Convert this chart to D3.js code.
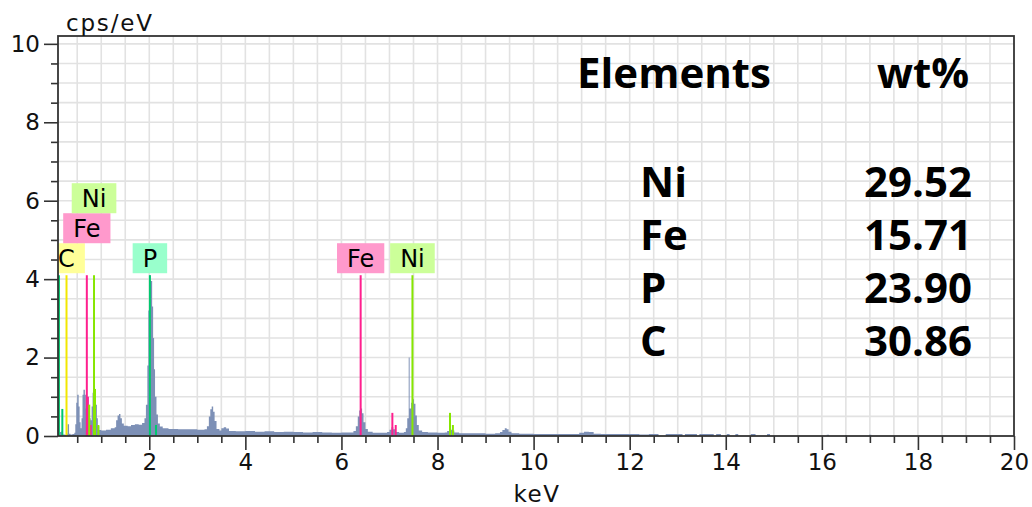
<!DOCTYPE html>
<html>
<head>
<meta charset="utf-8">
<script src="https://cdn.jsdelivr.net/npm/d3@7/dist/d3.min.js"></script>
<style>
  html, body { margin: 0; padding: 0; background: #fff; }
  svg { display: block; }
</style>
</head>
<body>
<svg id="chart" width="1032" height="507"></svg>
<script>
// EDS spectrum: energy (keV) of each channel group and its intensity (cps/eV)
const spectrumKeV = [
  0.10, 0.14, 0.17, 0.20, 0.24, 0.28, 0.30, 0.33, 0.36, 0.40, 0.44, 0.46, 0.48, 0.50, 0.53, 0.55,
  0.57, 0.59, 0.61, 0.63, 0.66, 0.68, 0.70, 0.72, 0.74, 0.76, 0.78, 0.80, 0.82, 0.84, 0.87, 0.89,
  0.91, 0.93, 0.96, 1.00, 1.10, 1.20, 1.28, 1.31, 1.34, 1.37, 1.40, 1.43, 1.47, 1.55, 1.62, 1.70,
  1.78, 1.85, 1.90, 1.93, 1.96, 1.98, 2.00, 2.03, 2.06, 2.08, 2.10, 2.12, 2.15, 2.18, 2.22, 2.28,
  2.40, 2.60, 2.80, 3.00, 3.15, 3.20, 3.24, 3.27, 3.30, 3.33, 3.36, 3.40, 3.46, 3.50, 3.55, 3.60,
  3.66, 3.80, 4.00, 4.20, 4.40, 4.60, 4.80, 5.00, 5.20, 5.40, 5.60, 5.80, 6.00, 6.15, 6.25, 6.30,
  6.34, 6.37, 6.40, 6.43, 6.46, 6.50, 6.55, 6.65, 6.80, 6.95, 7.00, 7.04, 7.08, 7.12, 7.20, 7.30,
  7.34, 7.37, 7.40, 7.42, 7.45, 7.48, 7.51, 7.54, 7.57, 7.61, 7.68, 7.80, 8.00, 8.15, 8.20, 8.25,
  8.30, 8.35, 8.45, 8.70, 9.00, 9.20, 9.30, 9.35, 9.40, 9.44, 9.48, 9.54, 9.70, 10.00, 10.50, 10.95,
  11.05, 11.15, 11.25, 11.40, 11.80, 12.20, 12.40, 12.60, 12.75, 12.95, 13.10, 13.15, 13.40, 13.45, 13.75, 13.80,
  13.90, 14.02, 14.08, 14.20, 14.26, 14.52, 14.62, 14.86, 14.92, 16.10, 16.15, 16.48, 16.52, 16.98, 17.03, 20.00
];
const spectrumCps = [
  0.03, 0.10, 0.12, 0.04, 0.03, 0.06, 0.30, 0.06, 0.04, 0.05, 0.08, 0.30, 0.85, 1.05, 0.75, 0.35,
  0.20, 0.45, 1.05, 1.18, 1.05, 0.70, 0.90, 1.00, 0.65, 0.45, 0.40, 0.75, 1.10, 1.22, 1.15, 0.80,
  0.45, 0.25, 0.15, 0.14, 0.16, 0.20, 0.22, 0.40, 0.52, 0.56, 0.45, 0.32, 0.26, 0.25, 0.28, 0.30,
  0.29, 0.33, 0.45, 0.80, 1.80, 3.20, 4.10, 3.95, 3.30, 2.50, 1.70, 1.00, 0.55, 0.32, 0.24, 0.20,
  0.18, 0.17, 0.17, 0.16, 0.17, 0.25, 0.50, 0.68, 0.75, 0.62, 0.38, 0.18, 0.14, 0.20, 0.22, 0.19,
  0.13, 0.12, 0.13, 0.11, 0.12, 0.10, 0.11, 0.10, 0.09, 0.10, 0.09, 0.08, 0.09, 0.09, 0.13, 0.25,
  0.50, 0.65, 0.70, 0.58, 0.35, 0.18, 0.11, 0.08, 0.08, 0.10, 0.16, 0.22, 0.17, 0.10, 0.08, 0.10,
  0.20, 0.45, 2.00, 0.70, 0.85, 0.94, 0.82, 0.52, 0.28, 0.14, 0.10, 0.09, 0.08, 0.09, 0.13, 0.16,
  0.14, 0.09, 0.07, 0.07, 0.06, 0.07, 0.10, 0.15, 0.20, 0.17, 0.11, 0.07, 0.06, 0.05, 0.05, 0.08,
  0.11, 0.10, 0.06, 0.05, 0.05, 0.04, 0.05, 0.00, 0.05, 0.05, 0.00, 0.05, 0.00, 0.05, 0.00, 0.05,
  0.00, 0.05, 0.00, 0.05, 0.00, 0.05, 0.00, 0.05, 0.00, 0.03, 0.00, 0.02, 0.00, 0.03, 0.00, 0.00
];

// Characteristic line markers: element, energy (keV), marker height (cps/eV)
const lineElement = ["P", "P", "C", "Fe", "Fe", "Fe", "Ni", "Ni", "Ni", "Ni", "P", "P", "Fe", "Fe", "Fe", "Ni", "Ni", "Ni"];
const lineKeV     = [0.12, 0.19, 0.277, 0.70, 0.72, 0.78, 0.75, 0.85, 0.87, 0.94, 2.013, 2.14, 6.40, 7.06, 7.13, 7.478, 8.26, 8.32];
const lineCps     = [4.1, 0.69, 4.1, 4.1, 1.0, 0.28, 0.8, 4.1, 1.2, 0.28, 4.1, 0.28, 4.1, 0.59, 0.28, 4.1, 0.59, 0.28];

// Peak tags: element, energy of the tagged line, stacking row
const tagElement = ["C", "Fe", "Ni", "P", "Fe", "Ni"];
const tagKeV     = [0.277, 0.70, 0.85, 2.013, 6.40, 7.478];
const tagRow     = [0, 1, 2, 0, 0, 0];

// Quantification table
const quantElement = ["Ni", "Fe", "P", "C"];
const quantWt      = ["29.52", "15.71", "23.90", "30.86"];

// Axis ticks
const xMajorTicks = [2, 4, 6, 8, 10, 12, 14, 16, 18, 20];
const yMajorTicks = [0, 2, 4, 6, 8, 10];
const xTitle = "keV";
const yTitle = "cps/eV";
const tableHeader = ["Elements", "wt%"];

// ---- styling ----
const lineColor = { C: "#f2e600", Fe: "#ff1f8e", Ni: "#86e600", P: "#00c86e" };
const tagFill   = { C: "#ffff99", Fe: "#ff99cc", Ni: "#ccff99", P: "#99ffcc" };
const spectrumFill = "#7d90b6";
const labelFont = "DejaVu Sans";

const svg = d3.select("#chart");
const plotL = 58, plotR = 1014, plotT = 36, plotB = 436;

const x = d3.scaleLinear().domain([0.1, 20]).range([plotL, plotR]);
const y = d3.scaleLinear().domain([0, 10.2]).range([plotB, plotT]);

const halfSteps = (a, b) => d3.range(a, b + 1e-9, 0.5);

// grid
const grid = svg.append("g");
grid.selectAll("line.v").data(halfSteps(0.5, 19.5)).join("line")
  .attr("x1", d => x(d)).attr("x2", d => x(d))
  .attr("y1", plotT).attr("y2", plotB)
  .attr("stroke", "#e2e2e2").attr("stroke-width", 1.6);
grid.selectAll("line.h").data(halfSteps(0.5, 10)).join("line")
  .attr("x1", plotL).attr("x2", plotR)
  .attr("y1", d => y(d)).attr("y2", d => y(d))
  .attr("stroke", "#e2e2e2").attr("stroke-width", 1.6);

svg.append("clipPath").attr("id", "plot").append("rect")
  .attr("x", plotL).attr("y", plotT).attr("width", plotR - plotL).attr("height", plotB - plotT);

const plot = svg.append("g").attr("clip-path", "url(#plot)");

// spectrum
const spec = spectrumKeV.map((e, i) => ({ e, v: spectrumCps[i] }));
plot.append("path")
  .datum(spec)
  .attr("fill", spectrumFill)
  .attr("d", d3.area().curve(d3.curveStepAfter)
    .x(d => x(d.e)).y0(y(0)).y1(d => y(d.v)));

// line markers
const lines = lineKeV.map((e, i) => ({ el: lineElement[i], e, v: lineCps[i] }));
plot.selectAll("line.marker").data(lines).join("line")
  .attr("x1", d => x(d.e)).attr("x2", d => x(d.e))
  .attr("y1", y(0)).attr("y2", d => y(d.v))
  .attr("stroke", d => lineColor[d.el]).attr("stroke-width", 2);

// peak tags
const tagH = 30, tagFont = 24;
const tags = tagKeV.map((e, i) => ({ el: tagElement[i], e, row: tagRow[i] }));
const tagG = plot.selectAll("g.tag").data(tags).join("g");
tagG.each(function (d) {
  const g = d3.select(this);
  const t = g.append("text")
    .attr("x", x(d.e)).attr("text-anchor", "middle")
    .attr("font-family", labelFont).attr("font-size", tagFont)
    .attr("fill", "#000").text(d.el);
  const w = t.node().getComputedTextLength() + 20;
  const yb = y(4.1) - 2 - d.row * tagH;
  g.insert("rect", "text")
    .attr("x", x(d.e) - w / 2).attr("y", yb - tagH)
    .attr("width", w).attr("height", tagH)
    .attr("fill", tagFill[d.el]);
  t.attr("y", yb - tagH / 2).attr("dy", "0.36em");
});

// axes
const axisColor = "#333";
function styleAxis(g) {
  g.select(".domain").remove();
  g.selectAll(".tick line").attr("stroke", axisColor).attr("stroke-width", 1.6);
  g.selectAll(".tick text").attr("font-family", labelFont).attr("font-size", 23).attr("fill", "#111");
}
svg.append("g").attr("transform", `translate(0,${plotB})`)
  .call(d3.axisBottom(x).tickValues(halfSteps(0.5, 19.5).filter(v => v % 2 !== 0)).tickSize(7).tickFormat(""))
  .call(styleAxis);
svg.append("g").attr("transform", `translate(0,${plotB})`)
  .call(d3.axisBottom(x).tickValues(xMajorTicks).tickSize(14).tickPadding(4).tickFormat(d3.format("d")))
  .call(styleAxis);
svg.append("g").attr("transform", `translate(${plotL},0)`)
  .call(d3.axisLeft(y).tickValues(halfSteps(0.5, 9.5).filter(v => v % 2 !== 0)).tickSize(7).tickFormat(""))
  .call(styleAxis);
svg.append("g").attr("transform", `translate(${plotL},0)`)
  .call(d3.axisLeft(y).tickValues(yMajorTicks).tickSize(14).tickPadding(4).tickFormat(d3.format("d")))
  .call(styleAxis);

// frame
svg.append("rect")
  .attr("x", plotL).attr("y", plotT).attr("width", plotR - plotL).attr("height", plotB - plotT)
  .attr("fill", "none").attr("stroke", axisColor).attr("stroke-width", 1.8);

// axis titles
svg.append("text").attr("x", 66).attr("y", 31)
  .attr("font-family", labelFont).attr("font-size", 23).attr("letter-spacing", 1.8)
  .attr("fill", "#111").text(yTitle);
svg.append("text").attr("x", 537).attr("y", 502).attr("text-anchor", "middle")
  .attr("font-family", labelFont).attr("font-size", 23).attr("letter-spacing", 1.5)
  .attr("fill", "#111").text(xTitle);

// quantification table
const tbl = svg.append("g").attr("font-family", "Open Sans").attr("font-weight", 700)
  .attr("font-size", 42).attr("fill", "#000");
tbl.append("text").attr("x", 577).attr("y", 88).text(tableHeader[0]);
tbl.append("text").attr("x", 969).attr("y", 88).attr("text-anchor", "end").text(tableHeader[1]);
tbl.selectAll("text.el").data(quantElement).join("text")
  .attr("x", 640).attr("y", (d, i) => 197 + i * 53).text(d => d);
tbl.selectAll("text.wt").data(quantWt).join("text")
  .attr("x", 972).attr("y", (d, i) => 197 + i * 53).attr("text-anchor", "end").text(d => d);
</script>
</body>
</html>
